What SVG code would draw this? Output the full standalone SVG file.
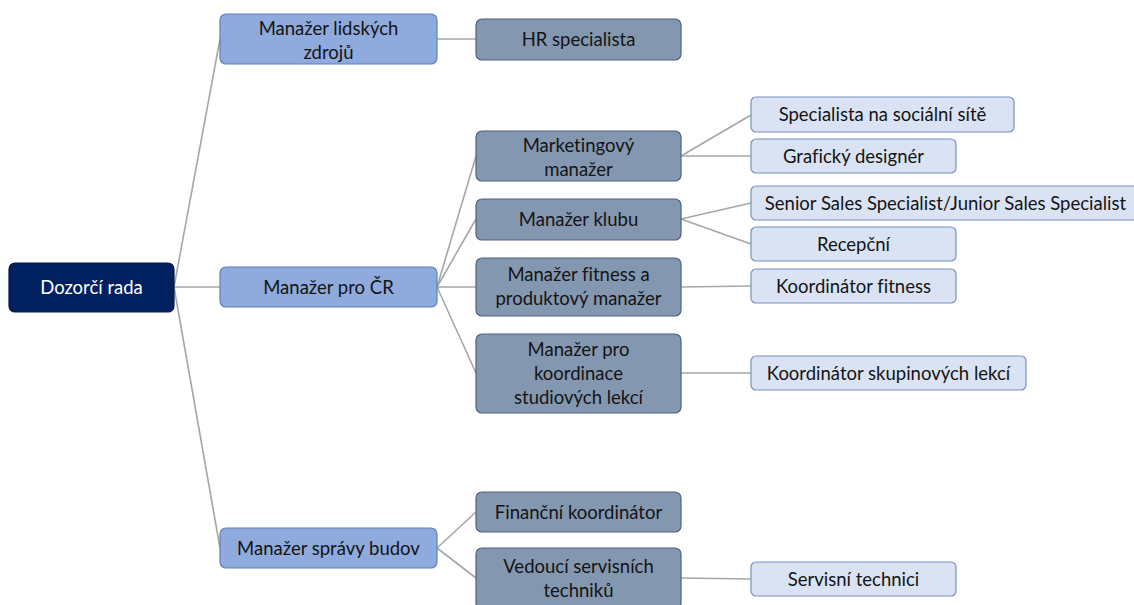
<svg xmlns="http://www.w3.org/2000/svg" width="1134" height="605" viewBox="0 0 1134 605">
  <style>
    text { font-family: Lato, "Open Sans", "Liberation Sans", sans-serif; font-size: 18.5px; text-anchor: middle; fill: #141414; font-variant-ligatures: none; }
    .root rect { fill: #002060; stroke: #001a4d; stroke-width: 1.2; }
    .root text { fill: #ffffff; }
    .l1 rect { fill: #8faadc; stroke: #5f7fbf; stroke-width: 1.2; }
    .l2 rect { fill: #8497b0; stroke: #4f617e; stroke-width: 1.2; }
    .l3 rect { fill: #dae3f3; stroke: #7890bd; stroke-width: 1.2; }
    #connectors line { stroke: #a6a6a6; stroke-width: 1.6; }
  </style>

  <!-- connectors -->
  <g id="connectors">
    <line x1="174" y1="287" x2="220" y2="39"/>
    <line x1="174" y1="287" x2="220" y2="287"/>
    <line x1="174" y1="287" x2="220" y2="548"/>
    <line x1="437" y1="39" x2="476" y2="39"/>
    <line x1="437" y1="287" x2="476" y2="156"/>
    <line x1="437" y1="287" x2="476" y2="219"/>
    <line x1="437" y1="287" x2="476" y2="287"/>
    <line x1="437" y1="287" x2="476" y2="373"/>
    <line x1="437" y1="548" x2="476" y2="512"/>
    <line x1="437" y1="548" x2="476" y2="578"/>
    <line x1="681" y1="156" x2="751" y2="115"/>
    <line x1="681" y1="156" x2="751" y2="156"/>
    <line x1="681" y1="219" x2="751" y2="203"/>
    <line x1="681" y1="219" x2="751" y2="244"/>
    <line x1="681" y1="287" x2="751" y2="286"/>
    <line x1="681" y1="373" x2="751" y2="373"/>
    <line x1="681" y1="578" x2="751" y2="579"/>
  </g>

  <!-- root -->
  <g id="dozorci-rada" class="root">
    <rect x="9" y="263" width="165" height="49" rx="6"/>
    <text x="91.5" y="294">Dozorčí rada</text>
  </g>

  <!-- first level -->
  <g id="manazer-lidskych-zdroju" class="l1">
    <rect x="220" y="14" width="217" height="50" rx="6"/>
    <text x="328.5" y="34.5">Manažer lidských</text>
    <text x="328.5" y="58.5">zdrojů</text>
  </g>
  <g id="manazer-pro-cr" class="l1">
    <rect x="220" y="267" width="217" height="40" rx="6"/>
    <text x="328.5" y="293.5">Manažer pro ČR</text>
  </g>
  <g id="manazer-spravy-budov" class="l1">
    <rect x="220" y="528" width="217" height="40" rx="6"/>
    <text x="328.5" y="554.5">Manažer správy budov</text>
  </g>

  <!-- second level -->
  <g id="hr-specialista" class="l2">
    <rect x="476" y="19" width="205" height="41" rx="6"/>
    <text x="578.5" y="46">HR specialista</text>
  </g>
  <g id="marketingovy-manazer" class="l2">
    <rect x="476" y="131" width="205" height="50" rx="6"/>
    <text x="578.5" y="151.5">Marketingový</text>
    <text x="578.5" y="175.5">manažer</text>
  </g>
  <g id="manazer-klubu" class="l2">
    <rect x="476" y="199" width="205" height="41" rx="6"/>
    <text x="578.5" y="226">Manažer klubu</text>
  </g>
  <g id="manazer-fitness" class="l2">
    <rect x="476" y="258" width="205" height="58" rx="6"/>
    <text x="578.5" y="281">Manažer fitness a</text>
    <text x="578.5" y="305">produktový manažer</text>
  </g>
  <g id="manazer-koordinace" class="l2">
    <rect x="476" y="334" width="205" height="79" rx="6"/>
    <text x="578.5" y="356">Manažer pro</text>
    <text x="578.5" y="380">koordinace</text>
    <text x="578.5" y="404">studiových lekcí</text>
  </g>
  <g id="financni-koordinator" class="l2">
    <rect x="476" y="492" width="205" height="40" rx="6"/>
    <text x="578.5" y="518.5">Finanční koordinátor</text>
  </g>
  <g id="vedouci-servisnich-techniku" class="l2">
    <rect x="476" y="548" width="205" height="61" rx="6"/>
    <text x="578.5" y="573">Vedoucí servisních</text>
    <text x="578.5" y="597">techniků</text>
  </g>

  <!-- third level -->
  <g id="specialista-socialni-site" class="l3">
    <rect x="751" y="97" width="263" height="35" rx="5"/>
    <text x="882.5" y="121">Specialista na sociální sítě</text>
  </g>
  <g id="graficky-designer" class="l3">
    <rect x="751" y="139" width="205" height="34" rx="5"/>
    <text x="853.5" y="162.5">Grafický designér</text>
  </g>
  <g id="sales-specialist" class="l3">
    <rect x="751" y="186" width="395" height="34" rx="5"/>
    <text x="945.5" y="209.5">Senior Sales Specialist/Junior Sales Specialist</text>
  </g>
  <g id="recepcni" class="l3">
    <rect x="751" y="227" width="205" height="34" rx="5"/>
    <text x="853.5" y="250.5">Recepční</text>
  </g>
  <g id="koordinator-fitness" class="l3">
    <rect x="751" y="269" width="205" height="34" rx="5"/>
    <text x="853.5" y="292.5">Koordinátor fitness</text>
  </g>
  <g id="koordinator-skupinovych-lekci" class="l3">
    <rect x="751" y="356" width="275" height="34" rx="5"/>
    <text x="888.5" y="379.5">Koordinátor skupinových lekcí</text>
  </g>
  <g id="servisni-technici" class="l3">
    <rect x="751" y="562" width="205" height="34" rx="5"/>
    <text x="853.5" y="585.5">Servisní technici</text>
  </g>
</svg>
